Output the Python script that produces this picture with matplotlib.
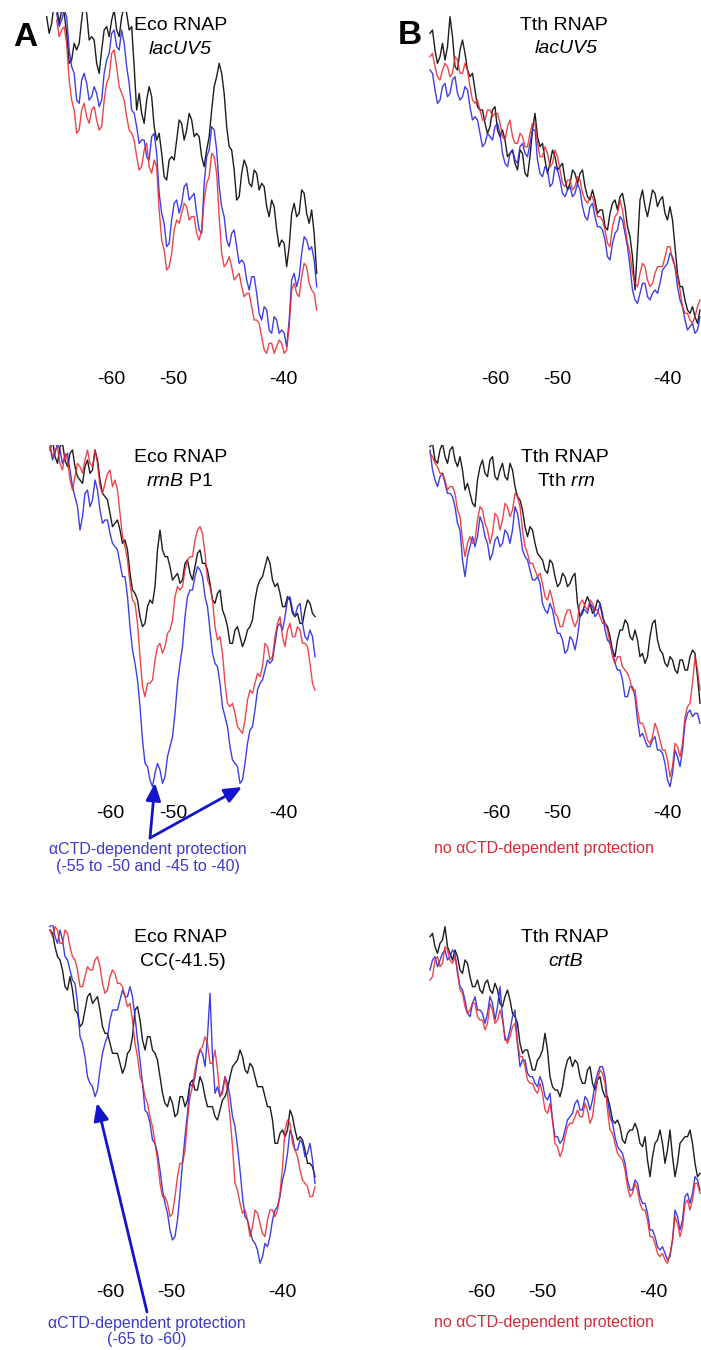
import numpy as np
import matplotlib.pyplot as plt

plt.rcParams['font.family'] = ['Liberation Sans', 'DejaVu Sans']
plt.rcParams['mathtext.fontset'] = 'custom'
plt.rcParams['mathtext.rm'] = 'Liberation Sans'
plt.rcParams['mathtext.it'] = 'Liberation Sans:italic'

# densitometry scans: scan position (arbitrary units) vs. band intensity
tick_labels = ['-60', '-50', '-40']

# --- A, top: Eco RNAP on lacUV5
a1_ticks = [33.3, 51.9, 84.9]
a1_black_span = (14.0, 95.0)
a1_black = [105, 100, 103, 109, 108, 103, 107, 106, 100, 91, 92, 97, 95, 97, 104, 110, 106, 98, 99, 98,
            91, 88, 95, 101, 102, 99, 104, 107, 101, 99, 105, 108, 106, 101, 102, 90, 77, 82, 76, 73,
            80, 84, 81, 72, 68, 70, 64, 57, 56, 62, 63, 62, 68, 74, 73, 68, 71, 76, 74, 69,
            70, 69, 63, 60, 65, 69, 77, 84, 87, 91, 88, 82, 72, 66, 65, 59, 50, 51, 58, 62,
            60, 55, 54, 59, 58, 53, 55, 54, 48, 45, 50, 48, 41, 36, 38, 37, 30, 36, 46, 49,
            45, 46, 53, 52, 46, 43, 47, 40, 28]
a1_color_span = (17.0, 95.0)
a1_blue = [106, 102, 104, 107, 105, 95, 90, 88, 80, 79, 86, 88, 85, 80, 81, 84, 82, 78, 80, 88,
           92, 94, 100, 101, 96, 95, 101, 97, 90, 85, 77, 76, 72, 67, 68, 68, 63, 62, 69, 70,
           64, 52, 46, 43, 36, 37, 44, 49, 50, 46, 49, 54, 55, 50, 51, 52, 46, 41, 40, 55,
           63, 65, 72, 71, 65, 54, 48, 45, 38, 36, 40, 41, 36, 31, 32, 31, 26, 23, 27, 27,
           22, 16, 14, 18, 17, 11, 10, 15, 14, 10, 11, 10, 6, 14, 26, 28, 24, 27, 34, 39,
           38, 35, 36, 32, 24]
a1_red = [104, 99, 101, 102, 97, 86, 80, 77, 70, 71, 77, 79, 75, 73, 77, 78, 74, 71, 72, 80,
          85, 87, 94, 95, 90, 84, 82, 80, 75, 71, 70, 68, 63, 59, 60, 65, 67, 60, 58, 62,
          60, 47, 38, 35, 29, 30, 34, 41, 44, 43, 46, 49, 48, 44, 45, 45, 40, 38, 41, 50,
          55, 57, 64, 63, 58, 45, 34, 30, 31, 33, 30, 26, 27, 28, 24, 21, 22, 22, 18, 14,
          14, 13, 9, 5, 4, 7, 7, 4, 6, 8, 7, 4, 5, 12, 23, 25, 22, 21, 27, 31,
          30, 25, 23, 22, 17]

# --- B, top: Tth RNAP on lacUV5
b1_ticks = [37.5, 56.1, 89.1]
b1_span = (18.0, 99.0)
b1_black = [100, 101, 95, 91, 93, 97, 92, 96, 105, 99, 90, 89, 95, 98, 94, 89, 87, 88, 83, 78,
            77, 77, 73, 70, 72, 77, 78, 71, 69, 71, 68, 63, 64, 65, 61, 59, 65, 64, 58, 57,
            63, 71, 76, 69, 66, 67, 62, 58, 61, 65, 63, 59, 60, 61, 56, 53, 55, 59, 58, 55,
            58, 59, 54, 51, 50, 53, 50, 46, 47, 47, 42, 41, 46, 49, 50, 47, 51, 52, 48, 42,
            39, 33, 23, 36, 50, 53, 48, 45, 49, 53, 52, 48, 50, 51, 46, 44, 48, 44, 36, 28,
            24, 24, 20, 17, 16, 18, 15, 13, 17]
b1_blue = [89, 88, 83, 79, 80, 84, 85, 81, 82, 86, 87, 82, 80, 81, 84, 83, 78, 74, 75, 74,
           70, 66, 67, 70, 69, 68, 72, 73, 70, 64, 61, 60, 64, 65, 62, 61, 66, 67, 64, 63,
           67, 71, 71, 62, 58, 57, 60, 59, 54, 55, 60, 59, 56, 52, 51, 53, 54, 51, 52, 55,
           53, 48, 45, 44, 48, 49, 45, 42, 42, 41, 38, 33, 32, 37, 40, 41, 45, 44, 40, 36,
           30, 23, 20, 19, 22, 25, 25, 21, 20, 22, 23, 22, 25, 29, 30, 31, 34, 33, 30, 24,
           20, 18, 14, 11, 12, 13, 10, 11, 15]
b1_red = [93, 94, 90, 87, 86, 89, 91, 90, 87, 88, 93, 92, 88, 88, 91, 89, 84, 80, 79, 80,
          77, 74, 74, 77, 77, 75, 76, 76, 73, 69, 68, 72, 74, 69, 67, 67, 70, 69, 66, 66,
          70, 73, 73, 67, 63, 63, 66, 64, 60, 61, 65, 63, 59, 55, 54, 56, 56, 53, 54, 57,
          56, 52, 50, 49, 51, 51, 48, 45, 45, 44, 41, 37, 36, 42, 45, 46, 50, 47, 42, 37,
          34, 28, 25, 24, 28, 31, 30, 26, 24, 25, 28, 30, 30, 30, 33, 36, 36, 32, 30, 27,
          23, 18, 16, 16, 14, 13, 15, 18, 20]

# --- A, middle: Eco RNAP on rrnB P1
a2_ticks = [33.0, 51.9, 84.9]
a2_span = (15.0, 94.5)
a2_black = [104, 107, 102, 100, 105, 106, 101, 99, 103, 104, 99, 96, 95, 94, 99, 101, 97, 98, 104, 101,
            95, 91, 90, 89, 85, 81, 82, 83, 80, 76, 77, 74, 67, 62, 61, 59, 54, 51, 52, 57,
            59, 58, 63, 74, 80, 74, 72, 72, 69, 65, 66, 67, 64, 65, 70, 71, 67, 65, 69, 73,
            74, 70, 70, 68, 64, 59, 58, 61, 62, 56, 54, 51, 46, 46, 50, 51, 48, 45, 47, 50,
            51, 53, 59, 63, 65, 66, 69, 72, 70, 65, 63, 64, 61, 57, 57, 60, 59, 55, 54, 55,
            52, 52, 56, 59, 58, 55, 54]
a2_blue = [105, 101, 103, 106, 104, 100, 102, 103, 98, 93, 90, 87, 80, 84, 91, 92, 87, 89, 95, 92,
           86, 82, 83, 83, 79, 76, 75, 74, 70, 66, 66, 60, 51, 44, 40, 35, 27, 17, 10, 9,
           5, 3, 7, 10, 8, 4, 6, 12, 15, 18, 25, 34, 40, 45, 54, 60, 62, 62, 66, 69,
           68, 66, 60, 57, 50, 43, 40, 39, 34, 27, 24, 21, 15, 11, 10, 9, 4, 5, 10, 16,
           20, 21, 26, 32, 34, 35, 38, 41, 40, 41, 46, 51, 52, 50, 54, 59, 60, 56, 54, 57,
           58, 52, 48, 47, 50, 48, 42]
a2_red = [105, 102, 104, 105, 100, 98, 103, 101, 95, 92, 96, 100, 99, 97, 101, 104, 100, 99, 104, 100,
          93, 91, 94, 97, 98, 93, 95, 92, 85, 78, 75, 71, 64, 59, 58, 52, 42, 33, 30, 34,
          34, 35, 41, 45, 46, 43, 45, 49, 50, 53, 60, 63, 62, 63, 68, 71, 72, 72, 77, 80,
          81, 79, 73, 65, 63, 59, 51, 47, 48, 43, 34, 28, 27, 28, 25, 21, 20, 19, 23, 29,
          32, 31, 34, 37, 36, 39, 46, 45, 41, 42, 48, 52, 54, 48, 45, 50, 52, 48, 48, 51,
          50, 46, 46, 45, 40, 34, 32]

# --- B, middle: Tth RNAP on Tth rrn
b2_ticks = [37.8, 56.1, 89.1]
b2_span = (18.0, 99.0)
b2_black = [105, 106, 101, 100, 104, 106, 102, 100, 104, 105, 101, 99, 102, 98, 92, 94, 91, 88, 87, 95,
            99, 101, 97, 96, 101, 102, 96, 95, 98, 100, 96, 95, 100, 98, 93, 90, 89, 86, 81, 78,
            81, 80, 76, 73, 72, 71, 68, 67, 71, 70, 66, 63, 64, 67, 66, 63, 64, 66, 67, 58,
            54, 55, 58, 60, 58, 55, 56, 59, 58, 54, 52, 51, 48, 44, 42, 47, 50, 50, 53, 52,
            48, 47, 50, 47, 42, 43, 40, 42, 48, 52, 53, 47, 44, 43, 40, 39, 42, 41, 38, 37,
            41, 41, 38, 38, 42, 44, 43, 36, 28]
b2_blue = [104, 98, 95, 93, 96, 97, 94, 91, 91, 90, 87, 82, 80, 71, 66, 72, 75, 78, 75, 78,
           84, 82, 78, 76, 71, 73, 77, 78, 75, 76, 80, 79, 76, 80, 87, 85, 80, 74, 72, 71,
           68, 65, 65, 66, 64, 58, 56, 55, 58, 56, 52, 49, 49, 47, 43, 44, 48, 47, 44, 48,
           54, 56, 56, 55, 58, 57, 54, 55, 58, 55, 50, 47, 46, 44, 40, 38, 38, 35, 30, 30,
           33, 33, 30, 23, 18, 19, 17, 15, 15, 17, 18, 14, 14, 13, 10, 5, 3, 7, 14, 12,
           9, 14, 22, 25, 26, 24, 25, 25, 22]
b2_red = [103, 102, 100, 99, 97, 97, 95, 92, 93, 93, 91, 86, 84, 77, 72, 76, 78, 76, 77, 83,
          87, 86, 82, 80, 76, 79, 85, 84, 80, 83, 88, 87, 84, 86, 91, 90, 87, 80, 75, 73,
          70, 70, 68, 66, 67, 64, 60, 59, 62, 59, 55, 54, 51, 51, 54, 56, 56, 53, 51, 53,
          58, 59, 57, 56, 59, 58, 56, 56, 54, 52, 52, 50, 46, 42, 40, 42, 42, 39, 38, 37,
          35, 32, 32, 26, 22, 22, 20, 17, 16, 18, 22, 20, 17, 14, 14, 11, 6, 9, 16, 15,
          12, 16, 24, 27, 28, 34, 42, 38, 32]

# --- A, bottom: Eco RNAP on CC(-41.5)
a3_ticks = [33.0, 51.5, 84.8]
a3_span = (15.0, 94.5)
a3_black = [104, 103, 99, 96, 95, 92, 87, 86, 90, 86, 80, 79, 75, 76, 80, 84, 85, 82, 83, 84,
            80, 75, 73, 73, 70, 67, 67, 67, 64, 61, 63, 67, 68, 72, 80, 81, 77, 71, 68, 72,
            72, 68, 67, 65, 60, 55, 52, 51, 54, 52, 48, 49, 54, 54, 51, 53, 58, 59, 56, 56,
            60, 58, 54, 51, 51, 51, 48, 47, 50, 53, 54, 56, 60, 63, 64, 65, 68, 66, 62, 61,
            64, 63, 60, 57, 57, 57, 54, 51, 51, 47, 40, 40, 43, 44, 42, 44, 50, 48, 44, 41,
            42, 41, 38, 34, 34, 33, 30]
a3_blue = [105, 106, 102, 100, 104, 101, 96, 95, 92, 89, 88, 82, 72, 70, 66, 60, 58, 57, 54, 56,
           62, 67, 70, 72, 77, 80, 80, 80, 83, 86, 84, 84, 87, 84, 78, 71, 65, 58, 50, 49,
           46, 41, 40, 37, 32, 26, 22, 19, 14, 11, 12, 17, 25, 34, 42, 49, 58, 57, 60, 65,
           68, 67, 63, 72, 85, 66, 55, 57, 54, 56, 60, 58, 54, 48, 45, 39, 32, 24, 18, 17,
           14, 11, 10, 8, 4, 6, 10, 9, 12, 17, 20, 21, 24, 29, 32, 37, 44, 42, 38, 38,
           41, 40, 36, 37, 40, 35, 28]
a3_red = [104, 102, 105, 104, 100, 100, 104, 103, 99, 96, 95, 92, 87, 87, 90, 93, 92, 92, 95, 96,
          93, 88, 85, 86, 90, 92, 91, 88, 88, 87, 84, 81, 82, 77, 70, 66, 60, 58, 54, 52,
          48, 45, 40, 35, 28, 24, 24, 22, 18, 19, 24, 30, 34, 34, 38, 47, 54, 57, 62, 66,
          68, 69, 72, 70, 64, 64, 68, 62, 54, 55, 60, 55, 48, 39, 28, 26, 22, 19, 20, 17,
          12, 15, 20, 19, 16, 13, 12, 17, 20, 20, 18, 20, 25, 33, 44, 47, 46, 40, 38, 36,
          32, 29, 28, 27, 24, 24, 27]

# --- B, bottom: Tth RNAP on crtB
b3_ticks = [33.5, 51.7, 85.0]
b3_span = (18.0, 99.0)
b3_black = [102, 103, 99, 97, 100, 101, 105, 99, 97, 95, 98, 96, 92, 91, 95, 94, 90, 87, 87, 89,
            86, 85, 88, 89, 86, 85, 88, 86, 82, 81, 84, 86, 83, 79, 78, 76, 70, 67, 68, 68,
            65, 62, 62, 65, 66, 68, 73, 68, 60, 57, 56, 56, 54, 57, 62, 65, 66, 63, 65, 64,
            60, 58, 58, 62, 63, 58, 56, 59, 60, 56, 54, 54, 51, 47, 46, 47, 45, 41, 40, 43,
            44, 44, 46, 44, 40, 39, 42, 35, 30, 36, 40, 41, 44, 40, 34, 38, 44, 36, 30, 34,
            40, 41, 42, 42, 44, 40, 34, 30, 31]
b3_blue = [92, 95, 96, 93, 95, 97, 98, 95, 96, 98, 97, 91, 87, 86, 83, 79, 78, 82, 84, 80,
           80, 79, 76, 79, 84, 82, 77, 81, 87, 78, 71, 71, 74, 78, 80, 70, 63, 65, 65, 61,
           60, 60, 58, 57, 60, 58, 54, 53, 55, 47, 42, 42, 40, 41, 44, 47, 48, 49, 52, 53,
           50, 50, 54, 53, 50, 53, 58, 61, 63, 63, 60, 53, 48, 46, 42, 39, 38, 37, 34, 29,
           26, 26, 29, 28, 24, 22, 22, 19, 14, 14, 12, 9, 8, 9, 7, 5, 6, 11, 20, 18,
           14, 17, 24, 25, 22, 25, 30, 29, 26]
b3_red = [89, 90, 95, 96, 93, 94, 99, 98, 95, 94, 96, 92, 86, 85, 81, 79, 80, 82, 82, 78,
          77, 77, 74, 76, 82, 80, 76, 77, 80, 77, 72, 70, 72, 75, 76, 70, 66, 66, 63, 59,
          58, 58, 56, 55, 58, 55, 50, 49, 52, 47, 40, 39, 36, 38, 42, 45, 46, 46, 48, 50,
          48, 48, 52, 50, 46, 48, 54, 59, 62, 61, 58, 50, 44, 43, 40, 37, 36, 35, 32, 27,
          24, 25, 28, 26, 22, 20, 20, 17, 12, 12, 10, 7, 6, 7, 5, 4, 7, 11, 18, 16,
          12, 15, 22, 23, 20, 23, 28, 28, 25]

BLACK = '#1c1c1c'
BLUE = '#2a2ae0'
RED = '#e8262c'
ARROW = '#1414cc'
NOTE_BLUE = '#3a3ac8'
NOTE_RED = '#d82a36'

W, H = 701, 1350
fig = plt.figure(figsize=(W / 100, H / 100), dpi=100)

UNIT_PX = 10 / 3  # pixels per intensity unit


def top_of(oy, v_top):
    return oy + (1100 - 10 * v_top) / 3


def panel(left, oy, width, v_top, v_bot, ticks):
    top = top_of(oy, v_top)
    height = (v_top - v_bot) * UNIT_PX
    ax = fig.add_axes([left / W, 1 - (top + height) / H, width / W, height / H])
    ax.set_xlim(0, 0.3 * width)
    ax.set_ylim(v_bot, v_top)
    for s in ax.spines.values():
        s.set_visible(False)
    ax.set_yticks([])
    ax.set_xticks(ticks, tick_labels)
    ax.tick_params(axis='x', length=0, pad=3.6, labelsize=14)
    ax.patch.set_alpha(0)
    return ax


def scan(ax, span, values, color, alpha=1.0):
    x = np.linspace(span[0], span[1], len(values))
    ax.plot(x, values, color=color, lw=1.0, alpha=alpha)


def traces(ax, span_k, black, span_c, blue, red):
    scan(ax, span_k, black, BLACK)
    scan(ax, span_c, blue, BLUE, 0.9)
    scan(ax, span_c, red, RED, 0.85)


def title(ax, x1, x2, y1, y2, line1, line2, style='normal'):
    ax.text(x1, y1, line1, ha='center', va='center', fontsize=14)
    ax.text(x2, y2, line2, ha='center', va='center', fontsize=14, fontstyle=style)


def arrow(ax, tip, base):
    ax.annotate('', xy=tip, xytext=base, annotation_clip=False,
                arrowprops=dict(arrowstyle='-|>,head_length=0.7,head_width=0.3',
                                color=ARROW, lw=2.0, mutation_scale=15,
                                shrinkA=0, shrinkB=0))


# row 1
ax_a1 = panel(0, 0, 330, 106.5, 0.2, a1_ticks)
traces(ax_a1, a1_black_span, a1_black, a1_color_span, a1_blue, a1_red)
title(ax_a1, 54.3, 54.0, 102.2, 95.3, 'Eco RNAP', 'lacUV5', 'italic')
ax_a1.text(7.5, 98.9, 'A', ha='center', va='center', fontsize=24, fontweight='bold')

ax_b1 = panel(370, 0, 331, 107, 0.2, b1_ticks)
traces(ax_b1, b1_span, b1_black, b1_span, b1_blue, b1_red)
title(ax_b1, 58.2, 58.8, 102.2, 95.3, 'Tth RNAP', 'lacUV5', 'italic')
ax_b1.text(12.0, 99.2, 'B', ha='center', va='center', fontsize=24, fontweight='bold')

# row 2
ax_a2 = panel(0, 430, 330, 105.5, -1.0, a2_ticks)
traces(ax_a2, a2_span, a2_black, a2_span, a2_blue, a2_red)
title(ax_a2, 54.3, 54.0, 101.9, 94.4, 'Eco RNAP', r'$\mathit{rrnB}$ P1')
arrow(ax_a2, (46.5, 4.1), (45.0, -12.4))
arrow(ax_a2, (72.6, 2.9), (45.0, -12.4))
ax_a2.text(44.4, -18.4, '\u03b1CTD-dependent protection\n(-55 to -50 and -45 to -40)',
           ha='center', va='center', fontsize=11.5, color=NOTE_BLUE, linespacing=1.1)

ax_b2 = panel(370, 430, 331, 105.5, -1.0, b2_ticks)
traces(ax_b2, b2_span, b2_black, b2_span, b2_blue, b2_red)
title(ax_b2, 58.5, 58.8, 101.9, 94.7, 'Tth RNAP', r'Tth $\mathit{rrn}$')
ax_b2.text(52.2, -15.7, 'no \u03b1CTD-dependent protection',
           ha='center', va='center', fontsize=11.5, color=NOTE_RED)

# row 3
ax_a3 = panel(0, 910, 330, 105.5, -0.7, a3_ticks)
traces(ax_a3, a3_span, a3_black, a3_span, a3_blue, a3_red)
title(ax_a3, 54.3, 54.9, 101.9, 94.4, 'Eco RNAP', 'CC(-41.5)')
arrow(ax_a3, (29.1, 52.1), (44.1, -10.6))
ax_a3.text(44.1, -16.45, '\u03b1CTD-dependent protection\n(-65 to -60)',
           ha='center', va='center', fontsize=11.5, color=NOTE_BLUE, linespacing=1.1)

ax_b3 = panel(370, 910, 331, 107, -0.7, b3_ticks)
traces(ax_b3, b3_span, b3_black, b3_span, b3_blue, b3_red)
title(ax_b3, 58.5, 58.8, 101.9, 94.4, 'Tth RNAP', 'crtB', 'italic')
ax_b3.text(52.2, -13.6, 'no \u03b1CTD-dependent protection',
           ha='center', va='center', fontsize=11.5, color=NOTE_RED)

fig.savefig('out.png', dpi=100, facecolor='white')
